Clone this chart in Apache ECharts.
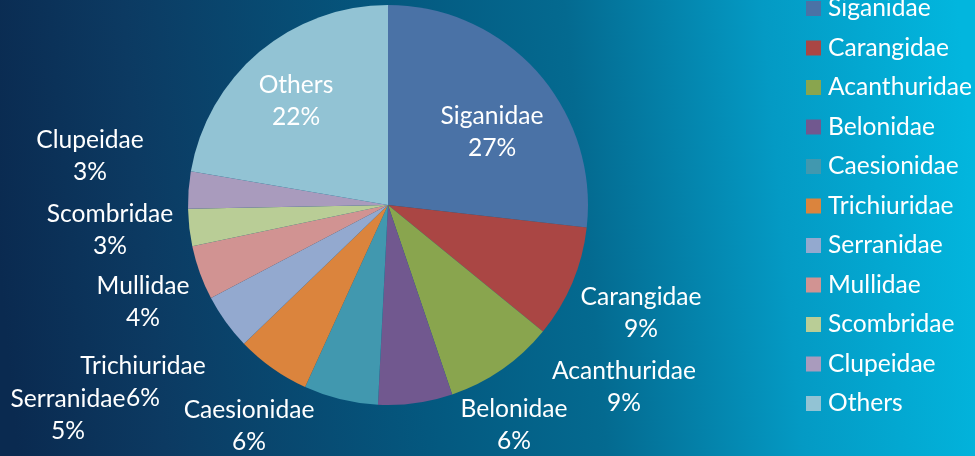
<!DOCTYPE html>
<html>
<head>
<meta charset="utf-8">
<script src="https://cdn.jsdelivr.net/npm/echarts@6/dist/echarts.min.js"></script>
<style>
html,body{margin:0;padding:0;}
#chart{width:975px;height:456px;}
</style>
</head>
<body>
<div id="chart"></div>
<script>
// ---- data ----
const families = ['Siganidae','Carangidae','Acanthuridae','Belonidae','Caesionidae','Trichiuridae','Serranidae','Mullidae','Scombridae','Clupeidae','Others'];
const shares = [26.8, 9.1, 8.9, 6.0, 6.0, 6.0, 4.5, 4.4, 3.0, 3.0, 22.3];

// ---- styling / layout ----
const sliceColors = ['#4a72a6','#aa4644','#89a54e','#71588f','#4198af','#db843d','#93a9cf','#d19392','#b9cd96','#a99bbd','#92c3d4'];
// label anchor offsets from the pie centre (Excel-style manual label placement)
const labelOffsets = [[104,-73],[253,108],[236,182],[126,220],[-139,221],[-245,177],[-320,210],[-245,97],[-278,25],[-298,-49],[-92,-104]];
const pieCenter = [388, 205];
const FONT = 'Lato';
const FS = 24.6;

const chart = echarts.init(document.getElementById('chart'), null, {renderer:'canvas'});
const option = {
  animation: false,
  backgroundColor: {
    type: 'linear', x: 0, y: 0.6, x2: 1, y2: 0.4,
    colorStops: [
      {offset: 0, color: '#0a2a50'},
      {offset: 0.15, color: '#0c3a62'},
      {offset: 0.42, color: '#04587f'},
      {offset: 0.6, color: '#046a90'},
      {offset: 0.8, color: '#049ac4'},
      {offset: 1, color: '#02b6de'}
    ]
  },
  legend: {
    orient: 'vertical',
    left: 801,
    top: -9,
    icon: 'rect',
    itemWidth: 15,
    itemHeight: 15,
    itemGap: 14.5,
    data: families,
    textStyle: {color: '#ffffff', fontFamily: FONT, fontSize: FS, lineHeight: 24, padding: [0,0,0,2]}
  },
  series: [{
    type: 'pie',
    center: pieCenter,
    radius: 200,
    startAngle: 90,
    clockwise: true,
    avoidLabelOverlap: false,
    itemStyle: {borderWidth: 0},
    emphasis: {disabled: true},
    label: {
      show: true,
      position: 'outside',
      color: '#ffffff',
      fontFamily: FONT,
      fontSize: FS,
      lineHeight: 32,
      align: 'center',
      formatter: p => p.name + '\n' + Math.round(p.percent) + '%'
    },
    labelLine: {show: false},
    labelLayout: function (p) {
      const o = labelOffsets[p.dataIndex];
      return {x: pieCenter[0] + o[0], y: pieCenter[1] + o[1], align: 'center', verticalAlign: 'middle'};
    },
    data: families.map((f, i) => ({name: f, value: shares[i], itemStyle: {color: sliceColors[i]}}))
  }]
};
chart.setOption(option);
</script>
</body>
</html>
